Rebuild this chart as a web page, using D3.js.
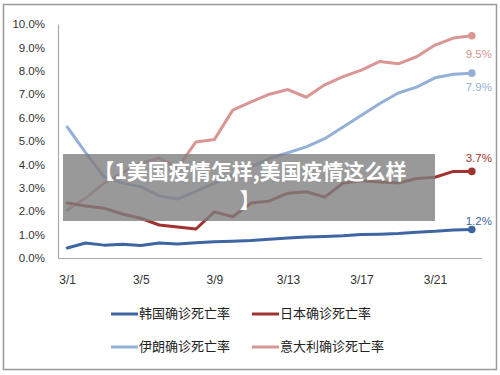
<!DOCTYPE html>
<html>
<head>
<meta charset="utf-8">
<title>确诊死亡率</title>
<script src="https://d3js.org/d3.v7.min.js"></script>
<style>
  body { margin: 0; background: #fff; }
  svg { display: block; }
</style>
</head>
<body>
<div id="chart"></div>
<script>
// data (percent)
var dates = ["3/1","3/2","3/3","3/4","3/5","3/6","3/7","3/8","3/9","3/10","3/11","3/12",
             "3/13","3/14","3/15","3/16","3/17","3/18","3/19","3/20","3/21","3/22","3/23"];
var tickDates = ["3/1","3/5","3/9","3/13","3/17","3/21"];
var yTicks = [0,1,2,3,4,5,6,7,8,9,10];
var names = ["韩国确诊死亡率","日本确诊死亡率","伊朗确诊死亡率","意大利确诊死亡率"];
var korea = [0.43,0.64,0.55,0.59,0.53,0.64,0.60,0.65,0.69,0.72,0.75,0.80,0.85,0.90,0.92,0.95,1.00,1.02,1.05,1.10,1.14,1.20,1.22];
var japan = [2.35,2.22,2.13,1.88,1.70,1.41,1.32,1.24,1.97,1.76,2.35,2.44,2.77,2.83,2.60,3.20,3.30,3.25,3.20,3.40,3.45,3.70,3.70];
var iran  = [5.60,4.50,3.47,3.20,3.05,2.65,2.52,2.85,3.20,3.55,3.90,4.25,4.50,4.75,5.10,5.60,6.10,6.60,7.05,7.30,7.70,7.85,7.90];
var italy = [2.05,2.56,3.20,3.63,4.05,4.27,3.85,4.96,5.06,6.32,6.67,7.00,7.20,6.87,7.40,7.75,8.03,8.40,8.30,8.60,9.10,9.40,9.50];
var title1 = "【1美国疫情怎样,美国疫情这么样";
var title2 = "】";

// styles for each series (draw order: first drawn first)
var series = [
  {name: names[3], values: italy, color: "#d99694", labelDx: 7, labelDy: 18},
  {name: names[2], values: iran,  color: "#95b0d6", labelDx: 7, labelDy: 14},
  {name: names[1], values: japan, color: "#a0332f", labelDx: 7, labelDy: -13},
  {name: names[0], values: korea, color: "#3d66a2", labelDx: 7, labelDy: -8}
];

var W = 500, H = 375;
var svg = d3.select("#chart").append("svg")
    .attr("width", W)
    .attr("height", H);

// outer border
svg.append("rect")
    .attr("x", 3.5).attr("y", 4.5)
    .attr("width", 493).attr("height", 365)
    .attr("fill", "#fff")
    .attr("stroke", "#999")
    .attr("stroke-width", 1.5);

var x = d3.scalePoint()
    .domain(dates)
    .range([58, 481])
    .padding(0.5);

var y = d3.scaleLinear()
    .domain([0, 10])
    .range([258, 24]);

// y axis
var yAxis = svg.append("g")
    .attr("transform", "translate(58,0)")
    .call(d3.axisLeft(y).tickValues(yTicks).tickSize(0).tickPadding(13)
      .tickFormat(function(d) { return d3.format(".1f")(d) + "%"; }));
yAxis.select(".domain").attr("stroke", "#aaa").attr("stroke-width", 1.2);
yAxis.selectAll("text")
    .style("font-family", "'Liberation Sans', Arial, sans-serif")
    .style("font-size", "11.5px")
    .attr("fill", "#333");

// x axis
var xAxis = svg.append("g")
    .attr("transform", "translate(0,258)")
    .call(d3.axisBottom(x).tickValues(tickDates).tickSize(0).tickPadding(17));
xAxis.select(".domain").attr("stroke", "#aaa").attr("stroke-width", 1.2);
xAxis.selectAll("text")
    .style("font-family", "'Liberation Sans', Arial, sans-serif")
    .style("font-size", "12px")
    .attr("fill", "#333");

var line = d3.line()
    .x(function(d, i) { return x(dates[i]); })
    .y(function(d) { return y(d); });

series.forEach(function(s) {
  svg.append("path")
      .datum(s.values)
      .attr("d", line)
      .attr("fill", "none")
      .attr("stroke", s.color)
      .attr("stroke-width", 3)
      .attr("stroke-linejoin", "round")
      .attr("stroke-linecap", "round");

  var last = s.values.length - 1;
  var px = x(dates[last]), py = y(s.values[last]);
  svg.append("circle")
      .attr("cx", px).attr("cy", py)
      .attr("r", 3.8)
      .attr("fill", s.color);
  svg.append("text")
      .attr("x", px + s.labelDx)
      .attr("y", py + s.labelDy)
      .attr("dy", "0.35em")
      .attr("text-anchor", "middle")
      .style("font-family", "'Liberation Sans', Arial, sans-serif")
      .style("font-size", "11.5px")
      .attr("fill", s.color)
      .text(d3.format(".1f")(s.values[last]) + "%");
});

// legend
var legendItems = [
  {name: names[0], color: "#3d66a2", lx: 111, ly: 313},
  {name: names[1], color: "#a0332f", lx: 252, ly: 313},
  {name: names[2], color: "#95b0d6", lx: 111, ly: 346},
  {name: names[3], color: "#d99694", lx: 252, ly: 346}
];
var legend = svg.append("g");
legendItems.forEach(function(d) {
  legend.append("line")
      .attr("x1", d.lx).attr("x2", d.lx + 27)
      .attr("y1", d.ly + 1).attr("y2", d.ly + 1)
      .attr("stroke", d.color)
      .attr("stroke-width", 3);
  legend.append("text")
      .attr("x", d.lx + 28)
      .attr("y", d.ly)
      .attr("dy", "0.35em")
      .style("font-family", "'Noto Sans CJK SC', sans-serif")
      .style("font-size", "13px")
      .attr("fill", "#222")
      .text(d.name);
});

// caption banner over the chart
svg.append("rect")
    .attr("x", 63).attr("y", 154)
    .attr("width", 372).attr("height", 67)
    .attr("fill", "#808080")
    .attr("fill-opacity", 0.8);
[title1, title2].forEach(function(t, i) {
  svg.append("text")
      .attr("x", 250)
      .attr("y", 171 + i * 29)
      .attr("dy", "0.36em")
      .attr("text-anchor", "middle")
      .style("font-family", "'Noto Sans CJK SC', sans-serif")
      .style("font-size", "21px")
      .style("font-weight", "bold")
      .attr("fill", "#fff")
      .text(t);
});
</script>
</body>
</html>
